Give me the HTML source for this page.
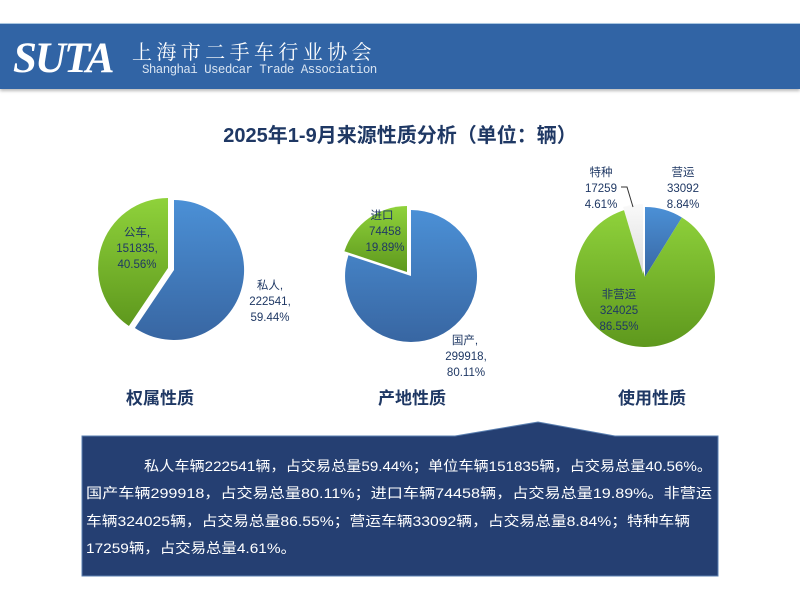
<!DOCTYPE html>
<html><head><meta charset="utf-8"><style>
body{margin:0;width:800px;height:600px;background:#fff;overflow:hidden;position:relative;font-family:"Liberation Sans","Noto Sans CJK SC",sans-serif}
.band{position:absolute;left:0;top:23px;width:800px;height:65px;background:#3164a5;border-top:1px solid #a9c6e0;box-shadow:0 2px 3px #bbb}
.abs{position:absolute;white-space:nowrap}
</style></head><body>
<div class="band"></div>
<div class="abs" style="left:13px;top:34px;color:#fff;font:italic bold 43px 'Liberation Serif',serif;letter-spacing:-2px">SUTA</div>
<div class="abs" style="left:132px;top:36px;color:#fff;font-size:20px;letter-spacing:4.4px;font-family:'Liberation Serif','Noto Serif CJK SC',serif">上海市二手车行业协会</div>
<div class="abs" style="left:142px;top:63px;color:#d8e4f2;font:12.5px 'Liberation Mono',monospace;letter-spacing:-0.6px">Shanghai Usedcar Trade Association</div>
<div class="abs" style="left:0;width:800px;text-align:center;top:119px;color:#1f3864;font-weight:bold;font-size:20px">2025年1-9月来源性质分析（单位：辆）</div>
<svg class="abs" style="left:0;top:0" width="800" height="600">
<defs>
<linearGradient id="b" x1="0" y1="0" x2="0" y2="1"><stop offset="0" stop-color="#4b90d6"/><stop offset="1" stop-color="#3866a2"/></linearGradient>
<linearGradient id="g" x1="0" y1="0" x2="0" y2="1"><stop offset="0" stop-color="#8fd23b"/><stop offset="1" stop-color="#5e981d"/></linearGradient>
<linearGradient id="w" x1="0" y1="0" x2="0" y2="1"><stop offset="0" stop-color="#fafafa"/><stop offset="1" stop-color="#dcdcdc"/></linearGradient>
</defs>
<path d="M174,270 L174,200 A70,70 0 1 1 134.9,328 Z" fill="url(#b)"/>
<path d="M168,268 L128.9,326 A70,70 0 0 1 168,198 Z" fill="url(#g)"/>
<path d="M411,276 L411,210 A66,66 0 1 1 348.4,255.2 Z" fill="url(#b)"/>
<path d="M407,272 L344.4,251.2 A66,66 0 0 1 407,206 Z" fill="url(#g)"/>
<path d="M645,277 L645,207 A70,70 0 0 1 681.9,217.5 Z" fill="url(#b)"/>
<path d="M645,277 L681.9,217.5 A70,70 0 1 1 625,209.9 Z" fill="url(#g)"/>
<path d="M643,274 L623,206.9 A70,70 0 0 1 643,204 Z" fill="url(#w)"/>
<polyline points="621,187 627,187 633,207" fill="none" stroke="#333" stroke-width="1"/>
<path d="M82,436 L455,436 L538,422 L615,436 L718,436 L718,576 L82,576 Z" fill="#253f72" stroke="#5a7fb0" stroke-width="1"/>
<g font-size="11.5" fill="#1f3864" text-anchor="middle">
<text x="137" y="236">公车,</text><text x="137" y="252">151835,</text><text x="137" y="268">40.56%</text>
<text x="270" y="289">私人,</text><text x="270" y="305">222541,</text><text x="270" y="321">59.44%</text>
<text x="382" y="219">进口</text><text x="385" y="235">74458</text><text x="385" y="251">19.89%</text>
<text x="465" y="344">国产,</text><text x="466" y="360">299918,</text><text x="466" y="376">80.11%</text>
<text x="601" y="176">特种</text><text x="601" y="192">17259</text><text x="601" y="208">4.61%</text>
<text x="683" y="176">营运</text><text x="683" y="192">33092</text><text x="683" y="208">8.84%</text>
<text x="619" y="298">非营运</text><text x="619" y="314">324025</text><text x="619" y="330">86.55%</text>
</g>
<g font-size="17" font-weight="bold" fill="#1f3864" text-anchor="middle">
<text x="160" y="404">权属性质</text><text x="412" y="404">产地性质</text><text x="652" y="404">使用性质</text>
</g>
<g font-size="14" fill="#fff">
<text x="144" y="471" textLength="568" lengthAdjust="spacingAndGlyphs">私人车辆222541辆，占交易总量59.44%；单位车辆151835辆，占交易总量40.56%。</text>
<text x="86" y="498" textLength="626" lengthAdjust="spacingAndGlyphs">国产车辆299918，占交易总量80.11%；进口车辆74458辆，占交易总量19.89%。非营运</text>
<text x="86" y="526" textLength="604" lengthAdjust="spacingAndGlyphs">车辆324025辆，占交易总量86.55%；营运车辆33092辆，占交易总量8.84%；特种车辆</text>
<text x="86" y="553" textLength="210" lengthAdjust="spacingAndGlyphs">17259辆，占交易总量4.61%。</text>
</g>
</svg>
</body></html>
